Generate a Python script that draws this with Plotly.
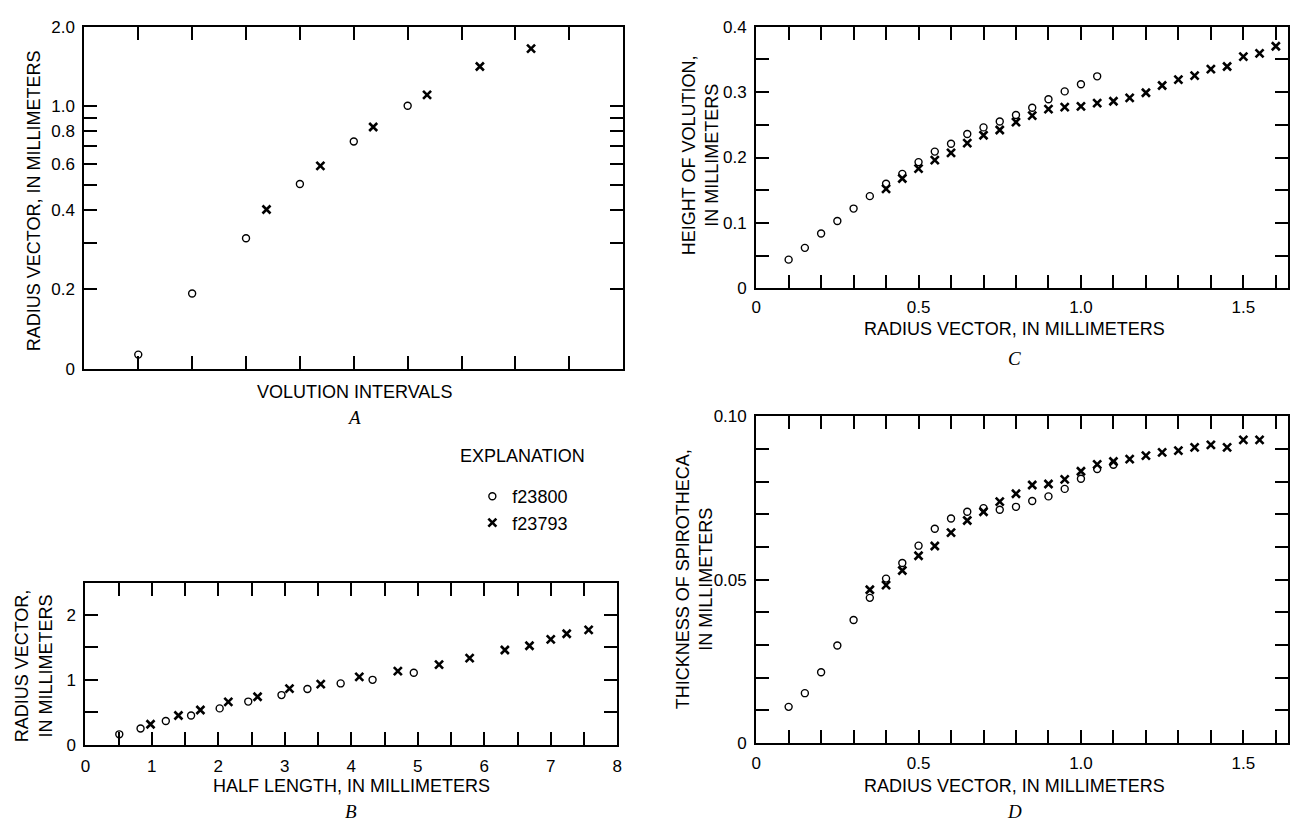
import plotly.graph_objects as go

# ---------------- data ----------------
# A: radius vector by volution interval (log scale)
a_circ_x = [1, 2, 3, 4, 5, 6]
a_circ_y = [0.113, 0.193, 0.313, 0.504, 0.731, 1.0]
a_cross_x = [3.38, 4.38, 5.36, 6.36, 7.34, 8.29]
a_cross_y = [0.403, 0.59, 0.83, 1.10, 1.41, 1.65]

# B: radius vector vs half length
b_circ_x = [0.51, 0.83, 1.21, 1.59, 2.02, 2.45, 2.95, 3.34, 3.84, 4.32, 4.94]
b_circ_y = [0.16, 0.25, 0.365, 0.45, 0.56, 0.665, 0.765, 0.86, 0.945, 1.00, 1.11]
b_cross_x = [0.98, 1.40, 1.73, 2.15, 2.59, 3.07, 3.54, 4.12, 4.70, 5.32, 5.78,
             6.31, 6.68, 7.00, 7.24, 7.57]
b_cross_y = [0.315, 0.45, 0.535, 0.66, 0.74, 0.865, 0.935, 1.045, 1.135, 1.235,
             1.335, 1.46, 1.525, 1.625, 1.71, 1.77]

# C: height of volution vs radius vector
c_circ_x = [0.10, 0.15, 0.20, 0.25, 0.30, 0.35, 0.40, 0.45, 0.50, 0.55,
            0.60, 0.65, 0.70, 0.75, 0.80, 0.85, 0.90, 0.95, 1.00, 1.05]
c_circ_y = [0.044, 0.062, 0.084, 0.103, 0.122, 0.141, 0.160, 0.175, 0.193, 0.209,
            0.221, 0.236, 0.246, 0.255, 0.265, 0.276, 0.289, 0.301, 0.312, 0.324]
c_cross_x = [0.40, 0.45, 0.50, 0.55, 0.60, 0.65, 0.70, 0.75, 0.80, 0.85,
             0.90, 0.95, 1.00, 1.05, 1.10, 1.15, 1.20, 1.25, 1.30, 1.35,
             1.40, 1.45, 1.50, 1.55, 1.60]
c_cross_y = [0.152, 0.168, 0.183, 0.196, 0.207, 0.222, 0.234, 0.242, 0.254, 0.264,
             0.274, 0.277, 0.278, 0.283, 0.286, 0.291, 0.299, 0.310, 0.319, 0.325,
             0.335, 0.339, 0.354, 0.359, 0.370]

# D: thickness of spirotheca vs radius vector
d_circ_x = [0.10, 0.15, 0.20, 0.25, 0.30, 0.35, 0.40, 0.45, 0.50, 0.55,
            0.60, 0.65, 0.70, 0.75, 0.80, 0.85, 0.90, 0.95, 1.00, 1.05, 1.10]
d_circ_y = [0.0110, 0.0152, 0.0216, 0.0298, 0.0376, 0.0444, 0.0503, 0.0551, 0.0604,
            0.0656, 0.0687, 0.0708, 0.0719, 0.0714, 0.0723, 0.0741, 0.0755, 0.0778,
            0.0809, 0.0839, 0.0852]
d_cross_x = [0.35, 0.40, 0.45, 0.50, 0.55, 0.60, 0.65, 0.70, 0.75, 0.80,
             0.85, 0.90, 0.95, 1.00, 1.05, 1.10, 1.15, 1.20, 1.25, 1.30,
             1.35, 1.40, 1.45, 1.50, 1.55]
d_cross_y = [0.0469, 0.0483, 0.0528, 0.0573, 0.0603, 0.0644, 0.0681, 0.0708, 0.0739,
             0.0763, 0.0790, 0.0793, 0.0807, 0.0832, 0.0853, 0.0862, 0.0869, 0.0880,
             0.0890, 0.0895, 0.0905, 0.0913, 0.0905, 0.0928, 0.0928]

series_names = ["f23800", "f23793"]

# ---------------- ticks ----------------
a_yticks = [0.1, 0.2, 0.3, 0.4, 0.5, 0.6, 0.7, 0.8, 0.9, 1.0, 2.0]
a_yticktext = ["0", "0.2", "", "0.4", "", "0.6", "", "0.8", "", "1.0", "2.0"]
a_xticks = [1, 2, 3, 4, 5, 6, 7, 8, 9]

b_xticks = [0, 0.5, 1, 1.5, 2, 2.5, 3, 3.5, 4, 4.5, 5, 5.5, 6, 6.5, 7, 7.5, 8]
b_xticktext = ["0", "", "1", "", "2", "", "3", "", "4", "", "5", "", "6", "", "7", "", "8"]
b_yticks = [0, 0.5, 1, 1.5, 2]
b_yticktext = ["0", "", "1", "", "2"]

cd_xticks = [0, 0.1, 0.2, 0.3, 0.4, 0.5, 0.6, 0.7, 0.8, 0.9, 1.0,
             1.1, 1.2, 1.3, 1.4, 1.5, 1.6]
cd_xticktext = ["0", "", "", "", "", "0.5", "", "", "", "", "1.0",
                "", "", "", "", "1.5", ""]
c_yticks = [0, 0.05, 0.1, 0.15, 0.2, 0.25, 0.3, 0.35, 0.4]
c_yticktext = ["0", "", "0.1", "", "0.2", "", "0.3", "", "0.4"]
d_yticks = [0, 0.01, 0.02, 0.03, 0.04, 0.05, 0.06, 0.07, 0.08, 0.09, 0.1]
d_yticktext = ["0", "", "", "", "", "0.05", "", "", "", "", "0.10"]

# ---------------- layout helpers ----------------
W, H = 1293, 828
SANS = "Liberation Sans, Arial, sans-serif"
SERIF = "Liberation Serif, Times New Roman, serif"


def px_x(v):
    return v / W


def px_y(v):
    return 1 - v / H


def axis(domain, **kw):
    base = dict(
        domain=domain, showline=True, linecolor="black", linewidth=2,
        mirror="allticks", ticks="inside", ticklen=13, tickwidth=2,
        tickcolor="black", showgrid=False, zeroline=False,
        tickfont=dict(family=SANS, size=17, color="black"),
        tickmode="array", fixedrange=True,
    )
    base.update(kw)
    return base


circle_marker = dict(symbol="circle-open", size=7, color="black",
                     line=dict(width=1.4, color="black"))
cross_marker = dict(symbol="x-thin-open", size=8, color="black",
                    line=dict(width=2.6, color="black"))

fig = go.Figure()

panels = [
    ("x", "y", a_circ_x, a_circ_y, a_cross_x, a_cross_y, True),
    ("x2", "y2", b_circ_x, b_circ_y, b_cross_x, b_cross_y, False),
    ("x3", "y3", c_circ_x, c_circ_y, c_cross_x, c_cross_y, False),
    ("x4", "y4", d_circ_x, d_circ_y, d_cross_x, d_cross_y, False),
]
for xa, ya, cx, cy, kx, ky, show in panels:
    fig.add_trace(go.Scatter(x=cx, y=cy, mode="markers", marker=circle_marker,
                             name=series_names[0], legendgroup="s0",
                             showlegend=show, xaxis=xa, yaxis=ya,
                             cliponaxis=False))
    fig.add_trace(go.Scatter(x=kx, y=ky, mode="markers", marker=cross_marker,
                             name=series_names[1], legendgroup="s1",
                             showlegend=show, xaxis=xa, yaxis=ya,
                             cliponaxis=False))

fig.update_layout(
    width=W, height=H,
    margin=dict(l=0, r=0, t=0, b=0),
    paper_bgcolor="white", plot_bgcolor="white",
    # A
    xaxis=axis([px_x(80), px_x(623)], range=[0, 10], tickvals=a_xticks,
               showticklabels=False, anchor="y"),
    yaxis=axis([px_y(368), px_y(18)], type="log", range=[-1, 0.30103],
               tickvals=a_yticks, ticktext=a_yticktext, anchor="x",
               ticklabelstandoff=4),
    # B
    xaxis2=axis([px_x(81), px_x(617)], range=[0, 8], tickvals=b_xticks,
                ticktext=b_xticktext, anchor="y2", ticklabelstandoff=5),
    yaxis2=axis([px_y(753), px_y(587)], range=[0, 2.5], tickvals=b_yticks,
                ticktext=b_yticktext, anchor="x2", ticklabelstandoff=4),
    # C
    xaxis3=axis([px_x(757), 1.0], range=[0, 1.6375], tickvals=cd_xticks,
                ticktext=cd_xticktext, anchor="y3", ticklabelstandoff=2),
    yaxis3=axis([px_y(286), px_y(18)], range=[0, 0.4], tickvals=c_yticks,
                ticktext=c_yticktext, anchor="x3", ticklabelstandoff=4),
    # D
    xaxis4=axis([px_x(757), 1.0], range=[0, 1.6375], tickvals=cd_xticks,
                ticktext=cd_xticktext, anchor="y4", ticklabelstandoff=4),
    yaxis4=axis([px_y(751), px_y(417)], range=[0, 0.1], tickvals=d_yticks,
                ticktext=d_yticktext, anchor="x4", ticklabelstandoff=4),
    showlegend=True,
    legend=dict(x=px_x(471), y=px_y(480), xanchor="left", yanchor="top",
                font=dict(family=SANS, size=18, color="black"),
                bgcolor="rgba(0,0,0,0)", borderwidth=0, tracegroupgap=0,
                itemclick=False, itemdoubleclick=False),
)

title_font = dict(family=SANS, size=18, color="black")
letter_font = dict(family=SERIF, size=19, color="black")


def label(text, x, y, font, angle=0):
    fig.add_annotation(text=text, x=px_x(x), y=px_y(y), xref="paper",
                       yref="paper", showarrow=False, font=font,
                       textangle=angle, xanchor="center", yanchor="middle")


# Panel A
label("RADIUS VECTOR, IN MILLIMETERS", 29, 196, title_font, -90)
label("VOLUTION INTERVALS", 352, 392, title_font)
label("<i>A</i>", 352, 418, letter_font)
# Panel B
label("RADIUS VECTOR,<br>IN MILLIMETERS", 29, 672, title_font, -90)
label("HALF LENGTH, IN MILLIMETERS", 349, 795, title_font)
label("<i>B</i>", 349, 821, letter_font)
# Key heading
label("EXPLANATION", 522, 458, title_font)
# Panel C
label("HEIGHT OF VOLUTION,<br>IN MILLIMETERS", 701, 150, title_font, -90)
label("RADIUS VECTOR, IN MILLIMETERS", 1017, 328, title_font)
label("<i>C</i>", 1017, 358, letter_font)
# Panel D
label("THICKNESS OF SPIROTHECA,<br>IN MILLIMETERS", 695, 584, title_font, -90)
label("RADIUS VECTOR, IN MILLIMETERS", 1017, 795, title_font)
label("<i>D</i>", 1017, 821, letter_font)

fig.write_html("out.html", config={"displayModeBar": False})
